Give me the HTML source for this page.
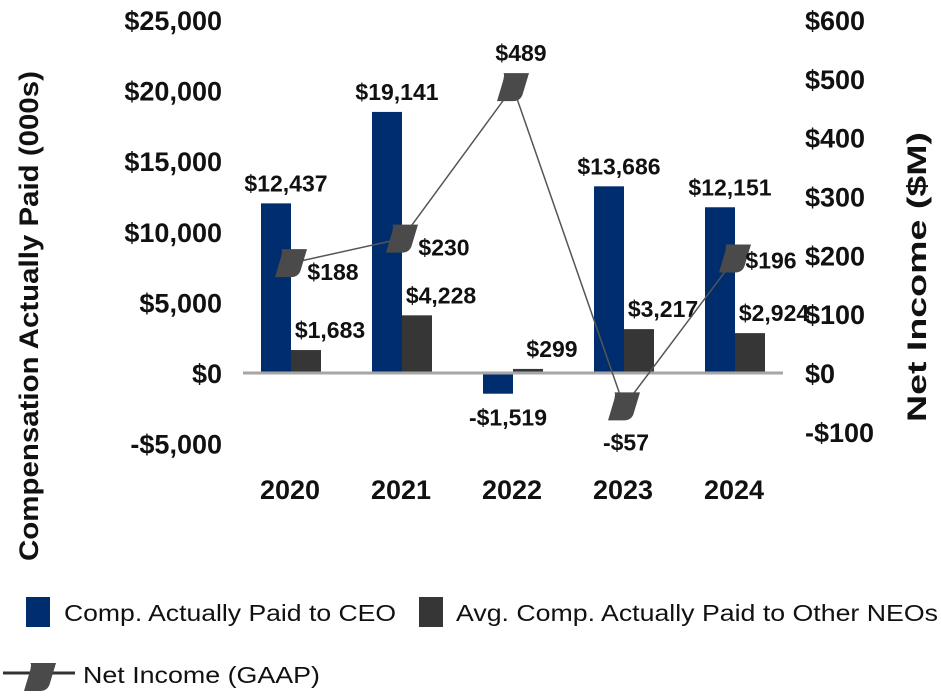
<!DOCTYPE html>
<html><head><meta charset="utf-8"><style>
body{margin:0;background:#fff;width:941px;height:691px;overflow:hidden}
svg text{font-family:"Liberation Sans",sans-serif}
.t{font-size:27px;font-weight:bold;fill:#111}
.d{font-size:23px;font-weight:bold;fill:#111}
.l{font-size:23px;fill:#111}
</style></head><body>
<svg id="c" width="941" height="691"></svg>
<script>
const categories=["2020","2021","2022","2023","2024"];
const ceoValues=[12437,19141,-1519,13686,12151];
const neoValues=[1683,4228,299,3217,2924];
const netIncome=[188,230,489,-57,196];
const leftTicks=[25000,20000,15000,10000,5000,0,-5000];
const rightTicks=[600,500,400,300,200,100,0,-100];
const ceoLabels=["$12,437","$19,141","-$1,519","$13,686","$12,151"];
const neoLabels=["$1,683","$4,228","$299","$3,217","$2,924"];
const niLabels=["$188","$230","$489","-$57","$196"];
const leftTickLabels=["$25,000","$20,000","$15,000","$10,000","$5,000","$0","-$5,000"];
const rightTickLabels=["$600","$500","$400","$300","$200","$100","$0","-$100"];

const svg=document.getElementById('c');const NS="http://www.w3.org/2000/svg";
function el(t,a,txt){const e=document.createElementNS(NS,t);for(const k in a)e.setAttribute(k,a[k]);if(txt!=null)e.textContent=txt;svg.appendChild(e);return e;}
const y0=373;
const yL=v=>y0-v*0.01364;
const yR=v=>y0-v*0.5845;
const yTL=v=>y0-v*(353/25000);
const yTR=v=>y0-v*(353/600);
const xC=i=>291+i*111;
const markerPath=(cx,cy)=>`M${cx-10},${cy-14} L${cx+16},${cy-14} L${cx+10},${cy+6} Q${cx+8},${cy+14} ${cx},${cy+14} L${cx-16},${cy+14} L${cx-10},${cy-6} Q${cx-8},${cy-14} ${cx-10},${cy-14}Z`;

leftTicks.forEach((v,i)=>{const e=el('text',{x:222,y:yTL(v)+10,'text-anchor':'end',class:'t'},leftTickLabels[i]);

});
rightTicks.forEach((v,i)=>{const e=el('text',{x:805,y:yTR(v)+10,class:'t'},rightTickLabels[i]);

});
let e=el('text',{transform:'translate(38,316) rotate(-90)','text-anchor':'middle',class:'t',textLength:490,lengthAdjust:'spacingAndGlyphs'},'Compensation Actually Paid (000s)');

e=el('text',{transform:'translate(926,277) rotate(-90)','text-anchor':'middle',class:'t',textLength:290,lengthAdjust:'spacingAndGlyphs'},'Net Income ($M)');


categories.forEach((c,i)=>{const x=xC(i);
 let v=ceoValues[i];let b=el('rect',{x:x-30,y:Math.min(yL(v),y0),width:30,height:Math.abs(yL(v)-y0),fill:'#002d6e'});
 
 let w=neoValues[i];b=el('rect',{x:x,y:Math.min(yL(w),y0),width:30,height:Math.abs(yL(w)-y0),fill:'#363636'});
 
 let t=el('text',{x:x-5,y:v>=0?yL(v)-12:yL(v)+32,'text-anchor':'middle',class:'d'},ceoLabels[i]);
 
 t=el('text',{x:x+39,y:yL(w)-12,'text-anchor':'middle',class:'d'},neoLabels[i]);
 
 t=el('text',{x:x-1,y:499,'text-anchor':'middle',class:'t'},c);
 
});
e=el('line',{x1:243,x2:783,y1:y0,y2:y0,stroke:'#a6a6a6','stroke-width':3});

e=el('polyline',{points:netIncome.map((v,i)=>xC(i)+','+yR(v)).join(' '),fill:'none',stroke:'#555','stroke-width':1.5});

netIncome.forEach((v,i)=>{const x=xC(i),y=yR(v);
 let m=el('path',{d:markerPath(x,y),fill:'#4a4a4a'});
 
 let lx=x+42,ly=y+17;
 if(i===2){lx=x+8;ly=y-26;} if(i===3){lx=x+2;ly=y+44;} if(i===4){lx=x+36;ly=y+10;}
 let t=el('text',{x:lx,y:ly,'text-anchor':'middle',class:'d'},niLabels[i]);
 
});
// legend
e=el('rect',{x:26,y:597,width:24,height:30,fill:'#002d6e'});
e=el('text',{x:64,y:621,class:'l',textLength:332,lengthAdjust:'spacingAndGlyphs'},'Comp. Actually Paid to CEO');
e=el('rect',{x:419,y:597,width:24,height:30,fill:'#363636'});
e=el('text',{x:456,y:621,class:'l',textLength:482,lengthAdjust:'spacingAndGlyphs'},'Avg. Comp. Actually Paid to Other NEOs');
e=el('line',{x1:3,x2:75,y1:673,y2:673,stroke:'#333','stroke-width':3});
e=el('path',{d:markerPath(40,677),fill:'#4a4a4a'});
e=el('text',{x:83,y:683,class:'l',textLength:237,lengthAdjust:'spacingAndGlyphs'},'Net Income (GAAP)');
</script>
</body></html>
